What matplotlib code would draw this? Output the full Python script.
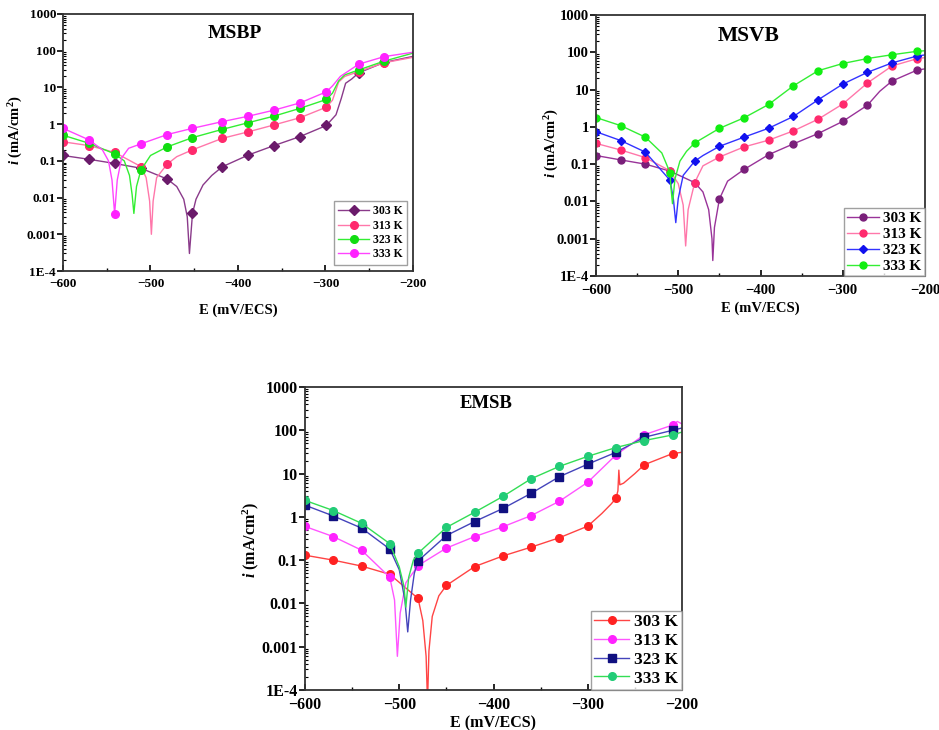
import matplotlib
matplotlib.use("Agg")
import matplotlib.pyplot as plt
import numpy as np
from matplotlib.ticker import FixedLocator, FixedFormatter, LogLocator, MultipleLocator, NullFormatter

plt.rcParams["font.family"] = "Liberation Serif"
plt.rcParams["font.weight"] = "bold"
plt.rcParams["mathtext.fontset"] = "custom"
plt.rcParams["mathtext.rm"] = "Liberation Serif:bold"
plt.rcParams["mathtext.it"] = "Liberation Serif:italic:bold"
plt.rcParams["mathtext.bf"] = "Liberation Serif:bold"

temps = ["303 K", "313 K", "323 K", "333 K"]
y_ticks = [1e-4, 1e-3, 1e-2, 1e-1, 1, 10, 100, 1000]
y_tick_labels = ["1E-4", "0.001", "0.01", "0.1", "1", "10", "100", "1000"]
x_ticks = [-600, -500, -400, -300, -200]

# ---- MSBP: marker positions (mV) and current densities (mA/cm2)
msbp_e = [-600, -570, -541, -511, -481, -452, -418, -388, -359, -329, -299, -262, -233]
msbp_303 = [0.14, 0.11, 0.085, 0.063, 0.032, 0.0037, 0.069, 0.145, 0.26, 0.46, 0.92, 25, 48]
msbp_313 = [0.33, 0.26, 0.17, 0.07, 0.081, 0.2, 0.41, 0.62, 0.95, 1.5, 2.9, 27, 47]
msbp_323 = [0.5, 0.3, 0.155, 0.056, 0.24, 0.43, 0.72, 1.1, 1.65, 2.7, 4.7, 30, 52]
msbp_333 = [0.77, 0.37, 0.0036, 0.29, 0.52, 0.77, 1.17, 1.65, 2.4, 3.8, 7.6, 43, 69]
# extra curve points between markers (dip near Ecorr, steep rise, end)
msbp_303_xe = [-470, -462, -458, -455.5, -448, -440, -430, -288, -282, -277, -270, -200]
msbp_303_xi = [0.02, 0.009, 0.003, 0.0003, 0.009, 0.022, 0.04, 1.8, 5, 13, 17, 70]
msbp_313_xe = [-505, -501, -499, -497, -493, -470, -292, -285, -278, -200]
msbp_313_xi = [0.035, 0.008, 0.001, 0.008, 0.035, 0.13, 4.5, 14, 20, 66]
msbp_323_xe = [-530, -524, -521, -519, -516, -500, -292, -285, -278, -200]
msbp_323_xi = [0.1, 0.04, 0.012, 0.0037, 0.02, 0.14, 7, 15, 22, 86]
msbp_333_xe = [-555, -548, -544, -538, -533, -525, -292, -283, -200]
msbp_333_xi = [0.2, 0.1, 0.03, 0.03, 0.12, 0.22, 11, 20, 91]

# ---- MSVB
msvb_e = [-600, -570, -540, -510, -480, -450, -420, -390, -360, -330, -300, -270, -240, -210]
msvb_303 = [0.17, 0.13, 0.1, 0.065, 0.032, 0.0115, 0.072, 0.18, 0.35, 0.66, 1.4, 3.8, 17, 33]
msvb_313 = [0.36, 0.24, 0.15, 0.066, 0.032, 0.155, 0.29, 0.44, 0.78, 1.6, 4.1, 15, 43, 67]
msvb_323 = [0.74, 0.43, 0.21, 0.037, 0.12, 0.3, 0.53, 0.92, 1.9, 5.3, 14, 29, 52, 79]
msvb_333 = [1.78, 1.08, 0.53, 0.059, 0.37, 0.91, 1.75, 4.0, 12.6, 32, 50, 68, 86, 106]
msvb_303_xe = [-470, -463, -459, -458, -456, -440, -255, -200]
msvb_303_xi = [0.018, 0.006, 0.001, 0.00026, 0.002, 0.035, 9, 36]
msvb_313_xe = [-500, -494, -491, -488, -470, -200]
msvb_313_xi = [0.03, 0.008, 0.00064, 0.006, 0.09, 72]
msvb_323_xe = [-506, -503, -500, -494, -470, -200]
msvb_323_xi = [0.012, 0.0027, 0.012, 0.05, 0.17, 85]
msvb_333_xe = [-520, -509, -507, -504, -498, -490, -200]
msvb_333_xi = [0.2, 0.025, 0.0087, 0.04, 0.12, 0.22, 110]

# ---- EMSB
emsb_e = [-600, -570, -540, -510, -480, -450, -420, -390, -360, -330, -300, -270, -240, -210]
emsb_303 = [0.13, 0.1, 0.073, 0.047, 0.013, 0.026, 0.071, 0.125, 0.2, 0.33, 0.61, 2.7, 16, 29]
emsb_313 = [0.6, 0.35, 0.17, 0.04, 0.075, 0.19, 0.35, 0.59, 1.07, 2.3, 6.3, 27, 79, 132]
emsb_323 = [1.86, 1.05, 0.55, 0.18, 0.096, 0.37, 0.78, 1.56, 3.5, 8.5, 16.5, 31, 69, 100]
emsb_333 = [2.4, 1.4, 0.71, 0.24, 0.145, 0.57, 1.28, 2.96, 7.6, 14.7, 25, 40, 58, 78]
emsb_303_xe = [-475, -471.5, -470, -468.5, -465, -458, -285, -275, -268, -267, -266, -262, -250, -200]
emsb_303_xi = [0.004, 0.0006, 0.00005, 0.0008, 0.005, 0.015, 1.2, 2.0, 4, 12, 5.5, 6, 10, 31]
emsb_313_xe = [-505, -502, -499, -493, -205, -200]
emsb_313_xi = [0.012, 0.0006, 0.006, 0.03, 160, 140]
emsb_323_xe = [-500, -494, -491, -488, -484, -200]
emsb_323_xi = [0.06, 0.012, 0.0022, 0.012, 0.05, 113]
emsb_333_xe = [-500, -495, -493, -490, -485, -200]
emsb_333_xi = [0.07, 0.025, 0.0082, 0.04, 0.1, 91]


def draw_series(ax, e_mk, i_mk, xe, xi, line_color, color, marker, ms, label):
    e_all = np.array(list(e_mk) + list(xe), dtype=float)
    i_all = np.array(list(i_mk) + list(xi), dtype=float)
    order = np.argsort(e_all, kind="stable")
    mk_idx = list(np.where(order < len(e_mk))[0])
    ax.plot(e_all[order], i_all[order], color=line_color, lw=1.0, marker=marker,
            markevery=mk_idx, ms=ms, mfc=color, mec=color, label=label)


def style_axes(ax, tick_fs, x_pad, label_fs, title, title_fs, title_xy, xl_y, yl_x, yl_y):
    ax.set_yscale("log")
    ax.set_xlim(-600, -200)
    ax.set_ylim(1e-4, 1000)
    ax.yaxis.set_major_locator(FixedLocator(y_ticks))
    ax.yaxis.set_major_formatter(FixedFormatter(y_tick_labels))
    ax.yaxis.set_minor_locator(LogLocator(base=10, subs=np.arange(2, 10), numticks=20))
    ax.yaxis.set_minor_formatter(NullFormatter())
    ax.xaxis.set_major_locator(FixedLocator(x_ticks))
    ax.xaxis.set_minor_locator(MultipleLocator(50))
    ax.tick_params(axis="y", which="major", direction="out", length=4, width=1.2,
                   labelsize=tick_fs, pad=1)
    ax.tick_params(axis="y", which="minor", direction="in", length=2.5, width=0.8)
    ax.tick_params(axis="x", which="major", direction="in", length=4, width=1.2,
                   labelsize=tick_fs, pad=x_pad)
    ax.tick_params(axis="x", which="minor", direction="in", length=2.5, width=1)
    for lab in ax.get_xticklabels() + ax.get_yticklabels():
        lab.set_fontweight("bold")
    for sp in ax.spines.values():
        sp.set_linewidth(1.3)
        sp.set_color("#333333")
    ax.set_xlabel("E (mV/ECS)", fontsize=label_fs, fontweight="bold")
    ax.set_ylabel(r"$\mathit{i}$ (mA/cm$^\mathbf{2}$)", fontsize=label_fs, fontweight="bold")
    ax.xaxis.set_label_coords(0.5, xl_y)
    ax.yaxis.set_label_coords(yl_x, yl_y)
    ax.text(title_xy[0], title_xy[1], title, transform=ax.transAxes, ha="center",
            va="center", fontsize=title_fs, fontweight="bold")


fig = plt.figure(figsize=(9.39, 7.30), dpi=100)

# MSBP
ax1 = fig.add_axes([63 / 939, 1 - 271 / 730, 350 / 939, 257 / 730])
draw_series(ax1, msbp_e, msbp_303, msbp_303_xe, msbp_303_xi, "#8a3a8a", "#6a1a6a", "D", 5, temps[0])
draw_series(ax1, msbp_e, msbp_313, msbp_313_xe, msbp_313_xi, "#ff77aa", "#ff2a6d", "o", 5.5, temps[1])
draw_series(ax1, msbp_e, msbp_323, msbp_323_xe, msbp_323_xi, "#33ee33", "#11dd11", "o", 5.5, temps[2])
draw_series(ax1, msbp_e, msbp_333, msbp_333_xe, msbp_333_xi, "#ff44ff", "#ff22ff", "o", 5.5, temps[3])
style_axes(ax1, 9.5, 5, 10.5, "MSBP", 14, (0.49, 0.925), -0.125, -0.108, 0.55)
leg = ax1.legend(loc="lower right", fontsize=8.5, frameon=True, fancybox=False,
                 edgecolor="#888888", handlelength=2.6, labelspacing=0.2,
                 borderaxespad=0.5, borderpad=0.4, handletextpad=0.3)
leg.get_frame().set_linewidth(1.0)

# MSVB
ax2 = fig.add_axes([596 / 939, 1 - 276 / 730, 329 / 939, 261 / 730])
draw_series(ax2, msvb_e, msvb_303, msvb_303_xe, msvb_303_xi, "#993399", "#7a1f7a", "o", 5, temps[0])
draw_series(ax2, msvb_e, msvb_313, msvb_313_xe, msvb_313_xi, "#ff77aa", "#ff2a6d", "o", 5, temps[1])
draw_series(ax2, msvb_e, msvb_323, msvb_323_xe, msvb_323_xi, "#3333ff", "#1111ee", "D", 4.5, temps[2])
draw_series(ax2, msvb_e, msvb_333, msvb_333_xe, msvb_333_xi, "#33ee33", "#11ee11", "o", 5, temps[3])
style_axes(ax2, 10.5, 6, 10.5, "MSVB", 15.5, (0.465, 0.92), -0.098, -0.107, 0.51)
leg = ax2.legend(loc="lower right", fontsize=11, frameon=True, fancybox=False,
                 edgecolor="#888888", handlelength=2.1, labelspacing=0.15,
                 borderaxespad=0.0, borderpad=0.2, handletextpad=0.3)
leg.get_frame().set_linewidth(1.0)

# EMSB
ax3 = fig.add_axes([305 / 939, 1 - 690 / 730, 377 / 939, 303 / 730])
draw_series(ax3, emsb_e, emsb_303, emsb_303_xe, emsb_303_xi, "#ff4444", "#ff2222", "o", 5.5, temps[0])
draw_series(ax3, emsb_e, emsb_313, emsb_313_xe, emsb_313_xi, "#ff55ff", "#ff22ff", "o", 5.5, temps[1])
draw_series(ax3, emsb_e, emsb_323, emsb_323_xe, emsb_323_xi, "#4444bb", "#101080", "s", 5.5, temps[2])
draw_series(ax3, emsb_e, emsb_333, emsb_333_xe, emsb_333_xi, "#33dd55", "#22cc77", "o", 5.5, temps[3])
style_axes(ax3, 11.5, 5, 11.5, "EMSB", 13.5, (0.48, 0.947), -0.083, -0.118, 0.495)
leg = ax3.legend(loc="lower right", fontsize=12.5, frameon=True, fancybox=False,
                 edgecolor="#888888", handlelength=2.0, labelspacing=0.15,
                 borderaxespad=0.0, borderpad=0.2, handletextpad=0.3)
leg.get_frame().set_linewidth(1.0)

fig.savefig("out.png", dpi=100)
plt.close(fig)
